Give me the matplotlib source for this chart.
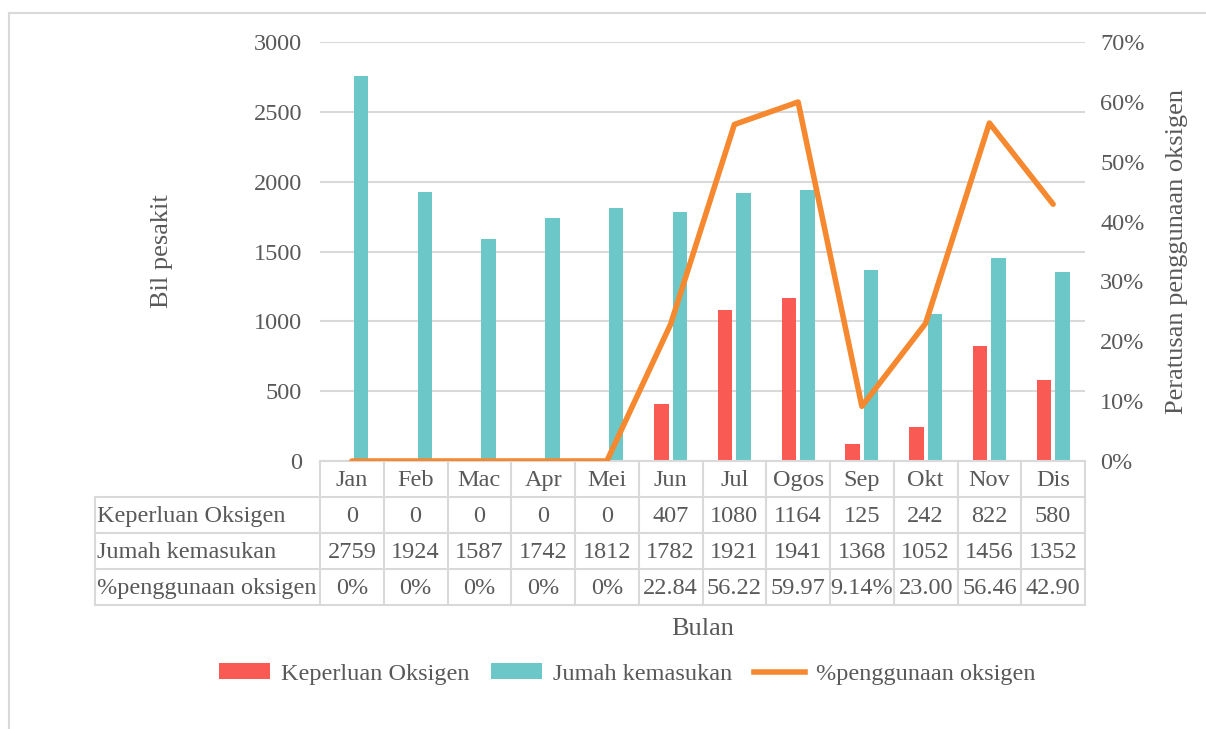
import numpy as np
import matplotlib
matplotlib.use("Agg")
import matplotlib.pyplot as plt
from matplotlib.lines import Line2D
from matplotlib.patches import Patch
from matplotlib.ticker import PercentFormatter

months = ["Jan", "Feb", "Mac", "Apr", "Mei", "Jun", "Jul", "Ogos", "Sep", "Okt", "Nov", "Dis"]
keperluan = [0, 0, 0, 0, 0, 407, 1080, 1164, 125, 242, 822, 580]
kemasukan = [2759, 1924, 1587, 1742, 1812, 1782, 1921, 1941, 1368, 1052, 1456, 1352]
peratus = [0, 0, 0, 0, 0, 22.84, 56.22, 59.97, 9.14, 23.00, 56.46, 42.90]
peratus_text = ["0%", "0%", "0%", "0%", "0%", "22.84", "56.22", "59.97", "9.14%", "23.00", "56.46", "42.90"]
row_labels = ["Keperluan Oksigen", "Jumah kemasukan", "%penggunaan oksigen"]

RED = "#F95A53"
CYAN = "#6CC8C8"
ORANGE = "#F6892F"
TXT = "#595959"
GRID = "#D9D9D9"
FS = 17.5

plt.rcParams["font.family"] = ["Liberation Serif", "DejaVu Serif"]
plt.rcParams["text.color"] = TXT

W, H = 1206, 729
fig = plt.figure(figsize=(W / 100, H / 100), dpi=100)

# plot area in pixels
px_l, px_r, px_t, px_b = 320, 1085, 42, 461
ax = fig.add_axes([px_l / W, 1 - px_b / H, (px_r - px_l) / W, (px_b - px_t) / H])

x = np.arange(len(months))
bw = 0.23
off = 0.145
ax.bar(x - off, keperluan, width=bw, color=RED, zorder=2)
ax.bar(x + off, kemasukan, width=bw, color=CYAN, zorder=2)

ax.set_xlim(-0.5, len(months) - 0.5)
ax.set_ylim(0, 3000)
ax.set_yticks(np.arange(0, 3001, 500))
ax.set_xticks([])
ax.yaxis.grid(True, color=GRID, lw=1.5, zorder=0)
ax.set_axisbelow(True)
for s in ax.spines.values():
    s.set_visible(False)
ax.tick_params(axis="y", length=0, pad=13, labelsize=FS, labelcolor=TXT)
ax.set_ylabel("Bil pesakit", fontsize=19, color=TXT, labelpad=58)

ax2 = ax.twinx()
ax2.plot(x, np.array(peratus) / 100, color=ORANGE, lw=4, solid_capstyle="round", zorder=3)
ax2.set_ylim(0, 0.7)
ax2.set_yticks(np.arange(0, 0.71, 0.1))
ax2.yaxis.set_major_formatter(PercentFormatter(1.0, decimals=0))
for s in ax2.spines.values():
    s.set_visible(False)
ax2.tick_params(axis="y", length=0, pad=11, labelsize=FS, labelcolor=TXT)
ax2.set_ylabel("Peratusan penggunaan oksigen", fontsize=19, color=TXT, labelpad=15)

# data table under the plot
row_h = 36 / (px_b - px_t)
lab_x = (95 - px_l) / (px_r - px_l)
n = len(months)
tr = ax.transAxes
line_kw = dict(color=GRID, lw=1.5, transform=tr, clip_on=False)

ax.add_line(Line2D([0, 1], [0, 0], **line_kw))
for r in range(1, 5):
    ax.add_line(Line2D([lab_x, 1], [-r * row_h, -r * row_h], **line_kw))
ax.add_line(Line2D([lab_x, lab_x], [-row_h, -4 * row_h], **line_kw))
for i in range(n + 1):
    ax.add_line(Line2D([i / n, i / n], [0, -4 * row_h], **line_kw))

rows = [months, [str(v) for v in keperluan], [str(v) for v in kemasukan], peratus_text]
for r, vals in enumerate(rows):
    yc = -(r + 0.55) * row_h
    for i, v in enumerate(vals):
        ax.text((i + 0.5) / n, yc, v, transform=tr, ha="center", va="center",
                fontsize=FS, color=TXT, clip_on=False)
    if r > 0:
        ax.text(lab_x + 0.003, yc, row_labels[r - 1], transform=tr, ha="left",
                va="center", fontsize=FS, color=TXT, clip_on=False)

fig.text((px_l + px_r) / 2 / W, 1 - 629 / H, "Bulan", ha="center", va="center",
         fontsize=19, color=TXT)

handles = [
    Patch(facecolor=RED, edgecolor="none"),
    Patch(facecolor=CYAN, edgecolor="none"),
    Line2D([0], [0], color=ORANGE, lw=4),
]
fig.legend(handles, ["Keperluan Oksigen", "Jumah kemasukan", "%penggunaan oksigen"],
           loc="center", bbox_to_anchor=(627 / W, 1 - 674 / H), ncol=3, frameon=False,
           fontsize=FS, handlelength=2.1, handleheight=0.65, handletextpad=0.45,
           columnspacing=0.9, labelcolor=TXT)

# outer chart border
fig.add_artist(Line2D([9 / W, 1], [1 - 13 / H, 1 - 13 / H], color=GRID, lw=1.5,
                      transform=fig.transFigure))
fig.add_artist(Line2D([9 / W, 9 / W], [0, 1 - 13 / H], color=GRID, lw=1.5,
                      transform=fig.transFigure))

fig.savefig("out.png", dpi=100, facecolor="white")
